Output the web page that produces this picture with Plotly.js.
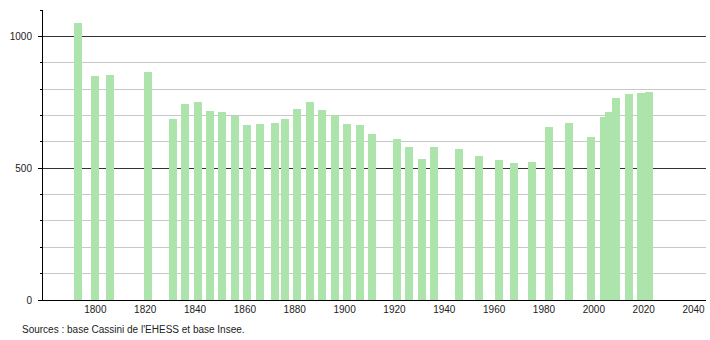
<!DOCTYPE html>
<html>
<head>
<meta charset="utf-8">
<script src="https://cdn.plot.ly/plotly-3.0.1.min.js"></script>
<style>html,body{margin:0;padding:0;background:#fff;}#chart{width:710px;height:340px;}</style>
</head>
<body>
<div id="chart"></div>
<script>
const years = [1793,1800,1806,1821,1831,1836,1841,1846,1851,1856,1861,1866,1872,1876,1881,1886,1891,1896,1901,1906,1911,1921,1926,1931,1936,1946,1954,1962,1968,1975,1982,1990,1999,2004,2006,2009,2014,2019,2022];
const population = [1052,848,855,864,686,745,751,717,714,699,662,669,670,685,726,750,722,702,668,664,628,610,581,536,580,574,545,532,519,524,657,671,619,693,714,766,783,785,788];
const xTicks = [1800,1820,1840,1860,1880,1900,1920,1940,1960,1980,2000,2020,2040];
const yTicks = [0,500,1000];
const sourceText = "Sources : base Cassini de l'EHESS et base Insee.";

const trace = {
  type: 'bar',
  x: years,
  y: population,
  width: 3.2,
  marker: {color: 'rgb(172,228,172)', line: {width: 0}},
  hoverinfo: 'x+y'
};

const layout = {
  width: 710, height: 340,
  margin: {l: 43, r: 4, t: 10, b: 40},
  paper_bgcolor: '#fff', plot_bgcolor: '#fff',
  font: {family: '"Liberation Sans", Arial, sans-serif', size: 10, color: '#222'},
  showlegend: false,
  bargap: 0,
  xaxis: {
    range: [1779, 2045],
    tickvals: xTicks,
    ticks: '',
    showgrid: false,
    zeroline: false,
    showline: true, linecolor: '#000', linewidth: 1,
    tickfont: {size: 10, color: '#222'}
  },
  yaxis: {
    range: [0, 1100],
    tickvals: yTicks,
    ticks: 'outside', ticklen: 4, tickcolor: '#000', tickwidth: 1,
    ticklabelstandoff: 4,
    showgrid: true, gridcolor: '#333', gridwidth: 1,
    zeroline: false,
    showline: true, linecolor: '#000', linewidth: 1,
    minor: {dtick: 100, tick0: 0, ticks: 'outside', ticklen: 2, tickcolor: '#000', showgrid: true, gridcolor: '#c8c8c8', gridwidth: 1},
    tickfont: {size: 10, color: '#222'}
  },
  annotations: [{
    text: sourceText,
    xref: 'paper', yref: 'paper',
    x: -0.0347, y: -0.1,
    xanchor: 'left', yanchor: 'middle',
    showarrow: false,
    font: {size: 10, color: '#222'}
  }]
};

Plotly.newPlot('chart', [trace], layout, {displayModeBar: false, staticPlot: true});
</script>
</body>
</html>
